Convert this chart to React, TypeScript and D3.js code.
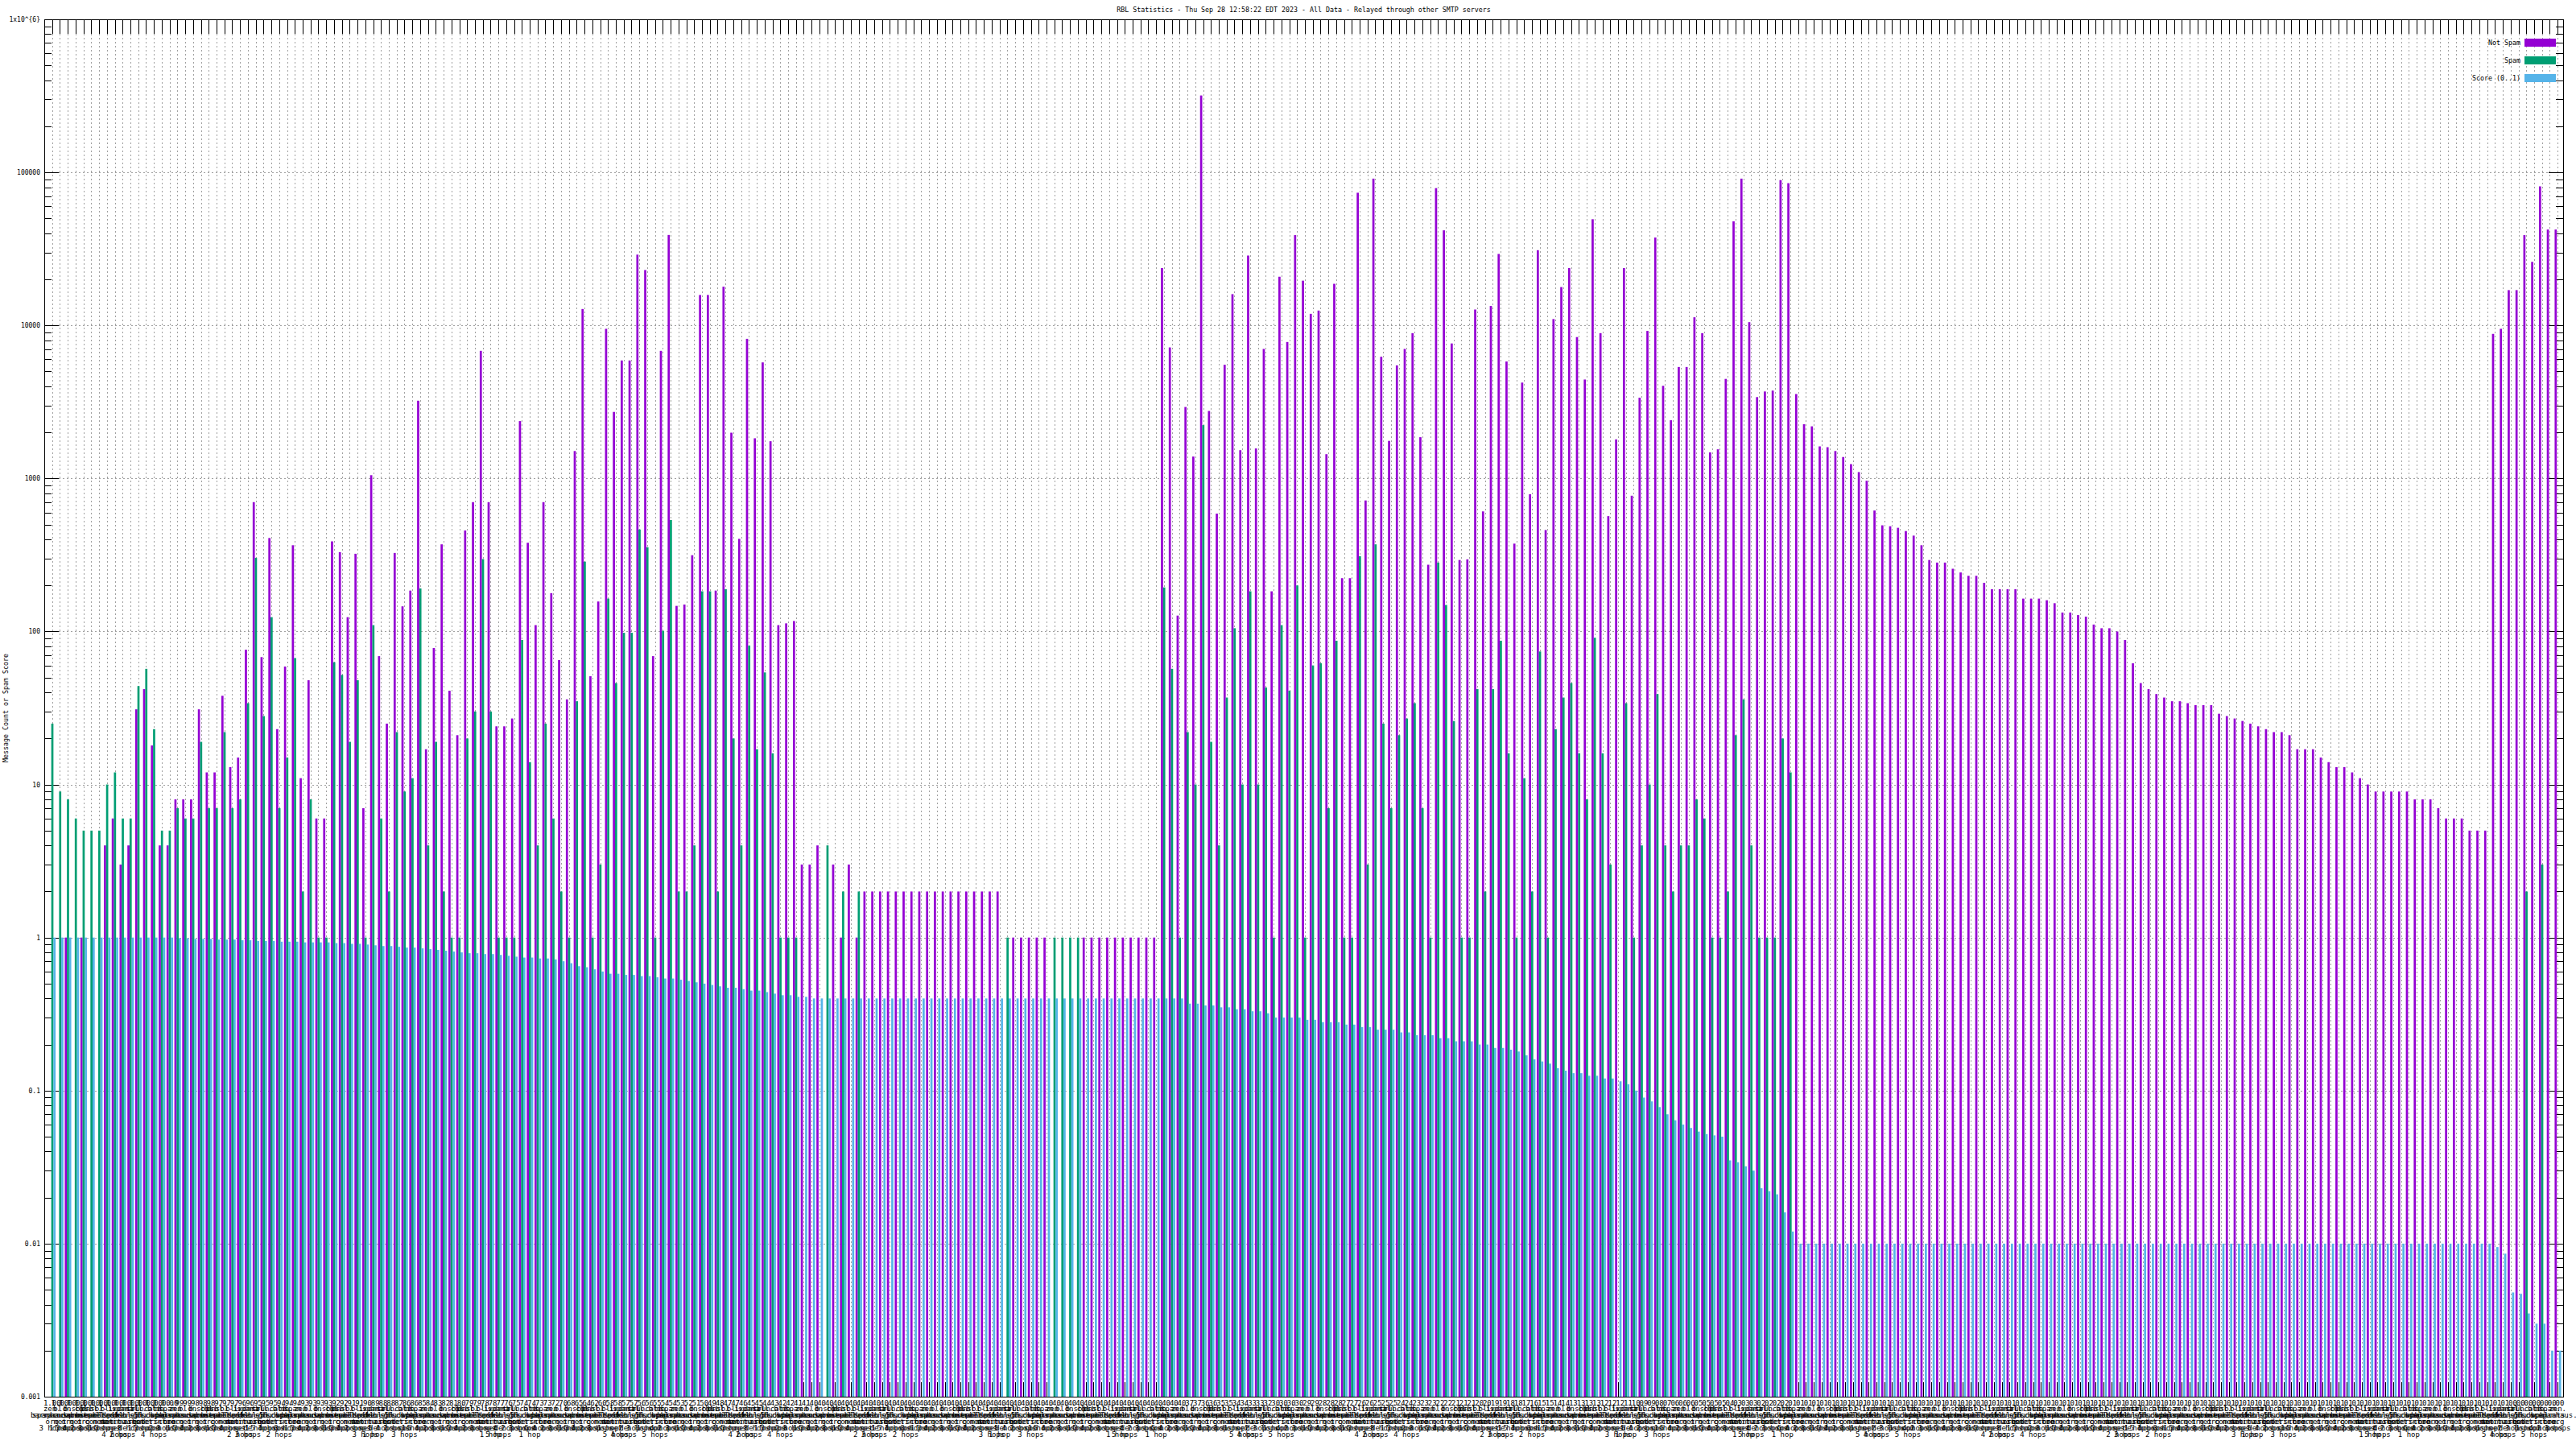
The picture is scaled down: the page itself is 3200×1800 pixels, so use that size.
import * as d3 from 'd3';
import { useEffect, useRef } from 'react';

// message counts per RBL entry (log scale, 0 = no bar)
const notSpam = [
  0, 0, 1, 0, 1, 0, 0, 4, 6, 3,
  4, 31, 42, 18, 4, 4, 8, 8, 8, 31,
  12, 12, 38, 13, 15, 76, 700, 68, 408, 23,
  59, 366, 11, 48, 6, 6, 388, 330, 124, 322,
  7, 1050, 69, 25, 326, 146, 185, 3220, 17, 78,
  371, 41, 21, 457, 700, 6820, 700, 24, 24, 27,
  2370, 380, 110, 700, 178, 65, 36, 1510, 12800, 51,
  157, 9500, 2720, 5900, 5900, 29000, 23000, 69, 6820, 39000,
  147, 150, 315, 15800, 15800, 185, 17900, 1990, 403, 8170,
  1830, 5730, 1750, 110, 113, 117, 3, 3, 4, 0,
  3, 1, 3, 1, 2, 2, 2, 2, 2, 2,
  2, 2, 2, 2, 2, 2, 2, 2, 2, 2,
  2, 2, 0, 1, 1, 1, 1, 1, 0, 0,
  0, 0, 1, 1, 1, 1, 1, 1, 1, 1,
  1, 1, 23700, 7180, 127, 2930, 1390, 318000, 2760, 589,
  5530, 16000, 1530, 28600, 1570, 7020, 183, 20800, 7790, 38900,
  19600, 11900, 12500, 1440, 18700, 223, 223, 73600, 718, 91000,
  6240, 1760, 5480, 7020, 8900, 1860, 273, 78900, 41800, 7620,
  293, 296, 12700, 609, 13400, 29300, 5810, 375, 4230, 789,
  31000, 460, 11000, 17800, 23700, 8390, 4430, 49400, 8900, 567,
  1800, 23700, 771, 3370, 9200, 37500, 4030, 2400, 5350, 5350,
  11300, 8900, 1480, 1550, 4470, 47900, 91000, 10500, 3400, 3700,
  3750, 89000, 85000, 3560, 2260, 2190, 1620, 1600, 1510, 1380,
  1240, 1100, 966, 617, 494, 487, 476, 453, 423, 366,
  293, 282, 282, 257, 243, 231, 231, 208, 189, 189,
  189, 189, 164, 164, 164, 160, 153, 133, 133, 128,
  125, 111, 105, 105, 100, 88, 62, 46, 42, 39,
  37, 35, 35, 34, 33, 33, 33, 29, 28, 27,
  26, 25, 24, 23, 22, 22, 21, 17, 17, 17,
  15, 14, 13, 13, 12, 11, 10, 9, 9, 9,
  9, 9, 8, 8, 8, 7, 6, 6, 6, 5,
  5, 5, 8800, 9500, 17000, 17000, 38900, 26000, 81000, 42300,
  42300,
];

const spam = [
  25, 9, 8, 6, 5, 5, 5, 10, 12, 6,
  6, 44, 57, 23, 5, 5, 7, 6, 6, 19,
  7, 7, 22, 7, 8, 34, 303, 28, 124, 7,
  15, 67, 2, 8, 1, 1, 63, 52, 19, 48,
  1, 110, 6, 2, 22, 9, 11, 191, 4, 19,
  2, 1, 1, 20, 30, 297, 30, 1, 1, 1,
  88, 14, 4, 25, 6, 2, 1, 35, 286, 1,
  3, 164, 46, 98, 98, 464, 355, 1, 101, 535,
  2, 2, 4, 183, 183, 2, 189, 20, 4, 81,
  17, 54, 16, 1, 1, 1, 0, 0, 0, 4,
  0, 2, 0, 2, 0, 0, 0, 0, 0, 0,
  0, 0, 0, 0, 0, 0, 0, 0, 0, 0,
  0, 0, 1, 0, 0, 0, 0, 0, 1, 1,
  1, 1, 0, 0, 0, 0, 0, 0, 0, 0,
  0, 0, 194, 57, 1, 22, 10, 2230, 19, 4,
  37, 105, 10, 183, 10, 43, 1, 110, 41, 200,
  1, 60, 62, 7, 87, 1, 1, 310, 3, 371,
  25, 7, 21, 27, 34, 7, 1, 282, 149, 26,
  1, 1, 42, 2, 42, 87, 16, 1, 11, 2,
  74, 1, 23, 37, 46, 16, 8, 91, 16, 3,
  0, 34, 1, 4, 10, 39, 4, 2, 4, 4,
  8, 6, 1, 1, 2, 21, 36, 4, 1, 1,
  1, 20, 12, 0, 0, 0, 0, 0, 0, 0,
  0, 0, 0, 0, 0, 0, 0, 0, 0, 0,
  0, 0, 0, 0, 0, 0, 0, 0, 0, 0,
  0, 0, 0, 0, 0, 0, 0, 0, 0, 0,
  0, 0, 0, 0, 0, 0, 0, 0, 0, 0,
  0, 0, 0, 0, 0, 0, 0, 0, 0, 0,
  0, 0, 0, 0, 0, 0, 0, 0, 0, 0,
  0, 0, 0, 0, 0, 0, 0, 0, 0, 0,
  0, 0, 0, 0, 0, 0, 0, 0, 0, 0,
  0, 0, 0, 0, 0, 0, 2, 0, 3, 0,
  0,
];

// spam score 0..1
const score = [
  1, 1, 1, 1, 1, 1, 1, 1, 1, 1,
  1, 1, 1, 1, 1, 1, 0.99, 0.99, 0.98, 0.98,
  0.98, 0.97, 0.97, 0.97, 0.96, 0.96, 0.95, 0.95, 0.95, 0.94,
  0.94, 0.94, 0.93, 0.93, 0.93, 0.93, 0.92, 0.92, 0.91, 0.91,
  0.9, 0.89, 0.88, 0.88, 0.87, 0.86, 0.86, 0.85, 0.84, 0.83,
  0.82, 0.81, 0.8, 0.79, 0.79, 0.78, 0.78, 0.77, 0.76, 0.75,
  0.74, 0.74, 0.73, 0.73, 0.72, 0.7, 0.68, 0.65, 0.64, 0.62,
  0.6, 0.58, 0.58, 0.57, 0.57, 0.56, 0.56, 0.55, 0.54, 0.54,
  0.53, 0.52, 0.51, 0.5, 0.49, 0.48, 0.47, 0.47, 0.46, 0.45,
  0.45, 0.44, 0.43, 0.42, 0.42, 0.41, 0.41, 0.4, 0.4, 0.4,
  0.4, 0.4, 0.4, 0.4, 0.4, 0.4, 0.4, 0.4, 0.4, 0.4,
  0.4, 0.4, 0.4, 0.4, 0.4, 0.4, 0.4, 0.4, 0.4, 0.4,
  0.4, 0.4, 0.4, 0.4, 0.4, 0.4, 0.4, 0.4, 0.4, 0.4,
  0.4, 0.4, 0.4, 0.4, 0.4, 0.4, 0.4, 0.4, 0.4, 0.4,
  0.4, 0.4, 0.4, 0.4, 0.4, 0.37, 0.37, 0.36, 0.36, 0.35,
  0.35, 0.34, 0.34, 0.33, 0.33, 0.32, 0.3, 0.3, 0.3, 0.3,
  0.29, 0.29, 0.28, 0.28, 0.28, 0.27, 0.27, 0.26, 0.26, 0.25,
  0.25, 0.25, 0.24, 0.24, 0.23, 0.23, 0.23, 0.22, 0.22, 0.21,
  0.21, 0.21, 0.2, 0.2, 0.19, 0.19, 0.185, 0.18, 0.17, 0.16,
  0.155, 0.15, 0.14, 0.135, 0.13, 0.13, 0.125, 0.125, 0.12, 0.12,
  0.115, 0.11, 0.1, 0.09, 0.085, 0.078, 0.07, 0.064, 0.06, 0.057,
  0.054, 0.052, 0.051, 0.05, 0.035, 0.034, 0.032, 0.03, 0.023, 0.022,
  0.021, 0.016, 0.012, 0.01, 0.01, 0.01, 0.01, 0.01, 0.01, 0.01,
  0.01, 0.01, 0.01, 0.01, 0.01, 0.01, 0.01, 0.01, 0.01, 0.01,
  0.01, 0.01, 0.01, 0.01, 0.01, 0.01, 0.01, 0.01, 0.01, 0.01,
  0.01, 0.01, 0.01, 0.01, 0.01, 0.01, 0.01, 0.01, 0.01, 0.01,
  0.01, 0.01, 0.01, 0.01, 0.01, 0.01, 0.01, 0.01, 0.01, 0.01,
  0.01, 0.01, 0.01, 0.01, 0.01, 0.01, 0.01, 0.01, 0.01, 0.01,
  0.01, 0.01, 0.01, 0.01, 0.01, 0.01, 0.01, 0.01, 0.01, 0.01,
  0.01, 0.01, 0.01, 0.01, 0.01, 0.01, 0.01, 0.01, 0.01, 0.01,
  0.01, 0.01, 0.01, 0.01, 0.01, 0.01, 0.01, 0.01, 0.01, 0.01,
  0.01, 0.01, 0.0095, 0.0086, 0.0048, 0.0047, 0.0035, 0.003, 0.003, 0.002,
  0.002,
];

// x tick label pieces
const rblLists = [
  'zen.spamhaus.org', 'bl.spamcop.net', 'b.barracudacentral.org', 'dnsbl.sorbs.net',
  'cbl.abuseat.org', 'psbl.surriel.com', 'dnsbl-1.uceprotect.net', 'bl.mailspike.net',
  'ix.dnsbl.manitu.net', 'spam.dnsbl.anonmails.de', 'dnsbl.dronebl.org', 'all.s5h.net',
  'truncate.gbudb.net', 'bl.score.senderscore.com', 'db.wpbl.info', 'spam.spamrats.com',
];
const hopLabels = ['3 hops', '5 hops', '2 hops', '1 hop', '4 hops'];

const yTickLabels = ['0.001', '0.01', '0.1', '1', '10', '100', '1000', '10000', '100000', '1x10^{6}'];

const seriesNames = ['Not Spam', 'Spam', 'Score (0..1)'];
const seriesColors = ['#9400d3', '#009e73', '#56b4e9'];

const App = () => {
  const ref: any = useRef();
  const width = 3200;
  const height = 1800;
  const left = 55;
  const right = 3184;
  const top = 24;
  const bottom = 1735;
  const font = "'DejaVu Sans Mono', monospace";

  useEffect(() => {
    const svg = d3.select(ref.current);
    svg.selectAll('*').remove();
    svg.append('rect').attr('width', width).attr('height', height).attr('fill', '#fff');

    const n = notSpam.length;
    const x = d3.scaleLinear().domain([-1, n - 0.3]).range([left, right]);
    const y = d3.scaleLog().domain([0.001, 1e6]).range([bottom, top]);
    const barW = 2.7;

    svg
      .append('defs')
      .append('clipPath')
      .attr('id', 'plot')
      .append('rect')
      .attr('x', left)
      .attr('y', top)
      .attr('width', right - left)
      .attr('height', bottom - top);

    const idx = d3.range(n);

    // grid
    const grid = svg.append('g').attr('stroke', '#a0a0a0').attr('stroke-width', 1).attr('stroke-dasharray', '2,3');
    grid
      .selectAll('line.v')
      .data(idx)
      .enter()
      .append('line')
      .attr('x1', (d) => Math.round(x(d)) + 0.5)
      .attr('x2', (d) => Math.round(x(d)) + 0.5)
      .attr('y1', top + 18)
      .attr('y2', bottom - 18);
    const decades = d3.range(-3, 7).map((k) => Math.pow(10, k));
    grid
      .selectAll('line.h')
      .data(decades.slice(1, -1))
      .enter()
      .append('line')
      .attr('x1', left + 18)
      .attr('x2', right - 18)
      .attr('y1', (d) => Math.round(y(d)) + 0.5)
      .attr('y2', (d) => Math.round(y(d)) + 0.5);

    // ticks (drawn under the bars, like gnuplot's default)
    const ticks = svg.append('g').attr('stroke', '#000').attr('stroke-width', 1);
    idx.forEach((d) => {
      const px = Math.round(x(d)) + 0.5;
      ticks.append('line').attr('x1', px).attr('x2', px).attr('y1', top).attr('y2', top + 18);
      ticks.append('line').attr('x1', px).attr('x2', px).attr('y1', bottom).attr('y2', bottom - 18);
    });
    const minors: number[] = [];
    decades.slice(0, -1).forEach((p) => {
      for (let m = 2; m <= 9; m++) minors.push(p * m);
    });
    decades.forEach((v) => {
      const py = Math.round(y(v)) + 0.5;
      ticks.append('line').attr('x1', left).attr('x2', left + 18).attr('y1', py).attr('y2', py);
      ticks.append('line').attr('x1', right).attr('x2', right - 18).attr('y1', py).attr('y2', py);
    });
    minors.forEach((v) => {
      const py = Math.round(y(v)) + 0.5;
      ticks.append('line').attr('x1', left).attr('x2', left + 9).attr('y1', py).attr('y2', py);
      ticks.append('line').attr('x1', right).attr('x2', right - 9).attr('y1', py).attr('y2', py);
    });

    // bars
    const bars = svg.append('g').attr('clip-path', 'url(#plot)');
    [notSpam, spam, score].forEach((series, k) => {
      bars
        .append('g')
        .selectAll('rect')
        .data(idx.filter((i) => series[i] > 0))
        .enter()
        .append('rect')
        .attr('x', (i) => x(i) + (k - 1.5) * barW + 0.3)
        .attr('width', barW)
        .attr('y', (i) => y(series[i]))
        .attr('height', (i) => bottom - y(series[i]))
        .attr('fill', seriesColors[k]);
    });

    // border
    svg
      .append('rect')
      .attr('x', left + 0.5)
      .attr('y', top + 0.5)
      .attr('width', right - left)
      .attr('height', bottom - top)
      .attr('fill', 'none')
      .attr('stroke', '#000')
      .attr('stroke-width', 1);

    // y tick labels
    svg
      .append('g')
      .selectAll('text')
      .data(decades)
      .enter()
      .append('text')
      .attr('x', 50)
      .attr('y', (d) => y(d) + 3)
      .attr('text-anchor', 'end')
      .attr('font-family', font)
      .attr('font-size', 8)
      .text((_d, i) => yTickLabels[i]);

    // x tick labels (multi-line, they overlap just like the original)
    const xl = svg.append('g').attr('font-family', font).attr('font-size', 9).attr('text-anchor', 'middle');
    idx.forEach((i) => {
      const host = rblLists[i % rblLists.length];
      const parts = host.split('.').map((p, j, a) => (j < a.length - 1 ? p + '.' : p));
      const lines = [score[i].toFixed(2).replace(/^0/, ''), ...parts, hopLabels[(i * 3) % hopLabels.length]];
      const t = xl.append('text').attr('x', x(i)).attr('y', 1745.5);
      lines.forEach((ln, j) => {
        t.append('tspan').attr('x', x(i)).attr('y', 1745.5 + j * 7.8).text(ln);
      });
    });

    // title
    svg
      .append('text')
      .attr('x', (left + right) / 2)
      .attr('y', 15)
      .attr('text-anchor', 'middle')
      .attr('font-family', font)
      .attr('font-size', 8.3)
      .text('RBL Statistics - Thu Sep 28 12:58:22 EDT 2023 - All Data - Relayed through other SMTP servers');

    // y axis label
    svg
      .append('text')
      .attr('transform', `translate(10,${(top + bottom) / 2}) rotate(-90)`)
      .attr('text-anchor', 'middle')
      .attr('font-family', font)
      .attr('font-size', 8.3)
      .text('Message Count or Spam Score');

    // legend
    const lg = svg.append('g');
    seriesNames.forEach((name, k) => {
      const cy = 53 + k * 22;
      lg.append('text')
        .attr('x', 3131)
        .attr('y', cy + 3)
        .attr('text-anchor', 'end')
        .attr('font-family', font)
        .attr('font-size', 8.3)
        .text(name);
      lg.append('rect').attr('x', 3136).attr('y', cy - 5).attr('width', 39).attr('height', 10).attr('fill', seriesColors[k]);
    });
  }, []);

  return <svg ref={ref} width={width} height={height} style={{ position: 'absolute', left: 0, top: 0 }} />;
};

export default App;
